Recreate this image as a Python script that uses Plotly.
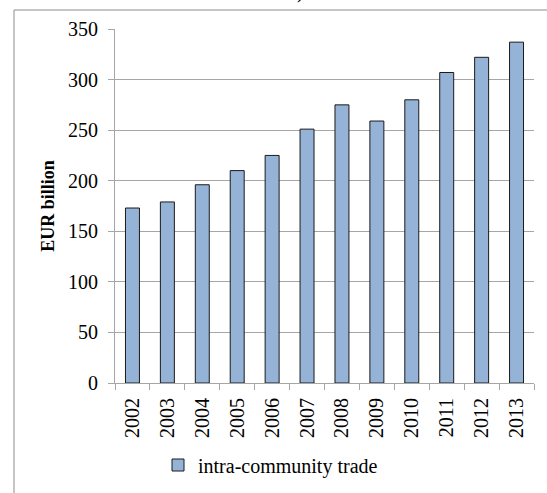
import plotly.graph_objects as go

years = ["2002", "2003", "2004", "2005", "2006", "2007", "2008", "2009", "2010", "2011", "2012", "2013"]
trade = [173, 179, 196, 210, 225, 251, 275, 259, 280, 307, 322, 337]
series_name = "intra-community trade"
y_title = "EUR billion"
y_ticks = [0, 50, 100, 150, 200, 250, 300, 350]

W, H = 547, 493
L, R, T, B = 115, 13, 29, 110
pw, ph = W - L - R, H - T - B

def px(x):
    return (x - L) / pw

def py(y):
    return (H - B - y) / ph

font = "Liberation Serif"
grid = "#A6A6A6"

fig = go.Figure()
fig.add_trace(go.Bar(
    x=years, y=trade, name=series_name,
    marker=dict(color="#95B3D7", line=dict(color="#1A1A1A", width=1)),
    width=0.4, showlegend=True,
))

fig.update_layout(
    width=W, height=H,
    margin=dict(l=L, r=R, t=T, b=B, autoexpand=False),
    paper_bgcolor="white", plot_bgcolor="white",
    font=dict(family=font, size=20, color="black"),
    showlegend=True,
    legend=dict(
        orientation="h", x=px(158), y=py(465), xanchor="left", yanchor="middle",
        font=dict(family=font, size=20, color="black"),
        bgcolor="rgba(0,0,0,0)", itemwidth=30, tracegroupgap=0,
    ),
    xaxis=dict(
        type="category", tickson="boundaries", ticks="outside", ticklen=6,
        tickcolor=grid, tickwidth=1, showline=True, linecolor=grid, linewidth=1,
        tickangle=-90, showgrid=False, tickfont=dict(family=font, size=20),
        ticklabelstandoff=6,
    ),
    yaxis=dict(
        range=[0, 350], tickvals=y_ticks, ticks="outside", ticklen=6,
        tickcolor=grid, tickwidth=1, showline=True, linecolor=grid, linewidth=1,
        showgrid=True, gridcolor=grid, gridwidth=1, zeroline=False,
        tickfont=dict(family=font, size=20), ticklabelstandoff=6,
        title=dict(text="<b>" + y_title + "</b>", font=dict(family=font, size=18), standoff=8),
    ),
    shapes=[
        dict(type="line", xref="paper", yref="paper", x0=px(14), x1=px(14), y0=py(10), y1=py(520),
             line=dict(color="#8C8C8C", width=1)),
        dict(type="line", xref="paper", yref="paper", x0=px(14), x1=px(560), y0=py(10), y1=py(10),
             line=dict(color="#8C8C8C", width=1)),
    ],
    annotations=[
        dict(text=")", xref="paper", yref="paper", x=px(300), y=py(5), xanchor="center", yanchor="bottom",
             showarrow=False, font=dict(family=font, size=20, color="black")),
    ],
)

fig.write_html("out.html", config={"displayModeBar": False},
               post_script="document.body.style.margin='0';document.body.style.overflow='hidden';")
